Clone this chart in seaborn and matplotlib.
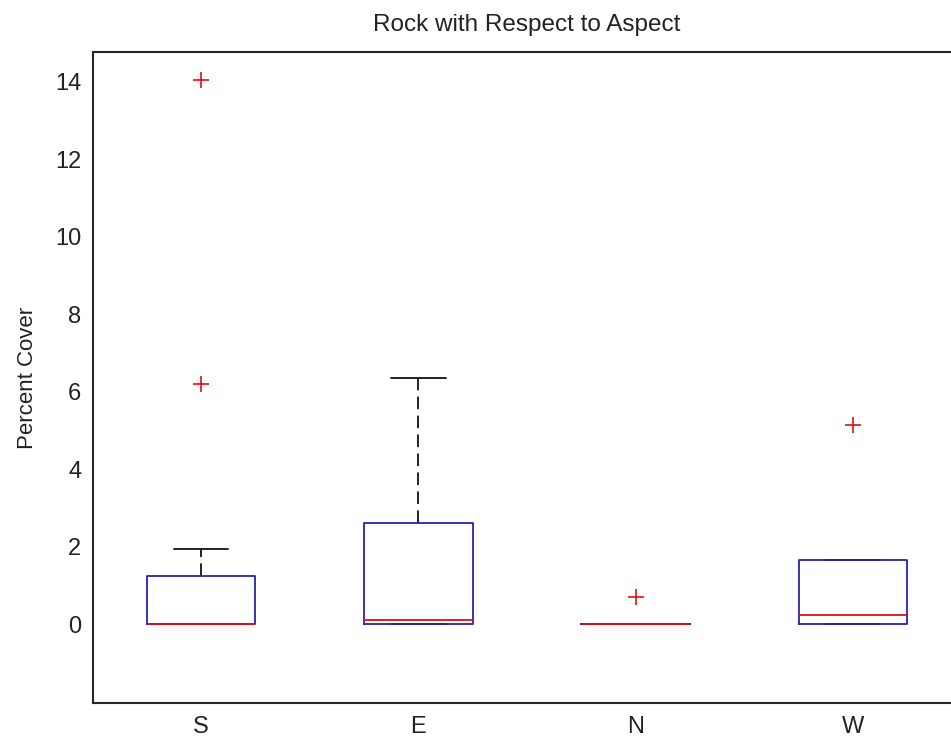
import matplotlib
matplotlib.use("Agg")
import matplotlib.pyplot as plt
import seaborn as sns
import pandas as pd

# Percent rock cover by slope aspect
aspects = ["S", "E", "N", "W"]
rock_s = [0, 0, 0, 0, 0, 0, 0, 0.4, 0.9, 1.24, 1.93, 6.2, 14.05]
rock_e = [0, 0, 0, 0.05, 0.1, 1.2, 2.6, 4.0, 6.35]
rock_n = [0, 0, 0, 0, 0, 0, 0, 0, 0.7]
rock_w = [0, 0, 0, 0.1, 0.25, 0.8, 1.65, 1.65, 5.15]

y_ticks = [0, 2, 4, 6, 8, 10, 12, 14]

df = pd.DataFrame({
    "Aspect": (["S"] * len(rock_s) + ["E"] * len(rock_e)
               + ["N"] * len(rock_n) + ["W"] * len(rock_w)),
    "Percent Cover": rock_s + rock_e + rock_n + rock_w,
})

sns.set_style("white")
plt.rcParams["font.family"] = ["Liberation Sans", "DejaVu Sans"]

fig = plt.figure(figsize=(9.51, 7.40), dpi=100)
ax = fig.add_axes([92.5 / 951, 1 - 703.3 / 740, 869.2 / 951, (703.3 - 51.7) / 740])

# boxes and medians sit above whiskers and caps
sns.boxplot(
    data=df, x="Aspect", y="Percent Cover", order=aspects,
    width=0.5, fill=False, whis=1.5, ax=ax,
    boxprops={"color": "#2424b0", "linewidth": 1.3, "zorder": 4},
    medianprops={"color": "#e01010", "linewidth": 1.3, "zorder": 5},
    whiskerprops={"color": "#111111", "linewidth": 1.3,
                  "linestyle": (0, (7, 3.5)), "zorder": 2},
    capprops={"color": "#111111", "linewidth": 1.3, "zorder": 2},
    flierprops={"marker": "+", "markeredgecolor": "#e01010",
                "markersize": 11, "markeredgewidth": 1.2, "zorder": 5},
)

ax.set_xlim(-0.5, 3.5)
ax.set_ylim(-2.04, 14.77)
ax.set_yticks(y_ticks)
ax.set_yticklabels([str(t) for t in y_ticks])

for side in ["left", "top", "bottom", "right"]:
    ax.spines[side].set_visible(True)
    ax.spines[side].set_color("#262626")
    ax.spines[side].set_linewidth(1.5)

ax.tick_params(axis="y", direction="in", length=7, width=1.2, color="#262626",
               labelsize=17, labelcolor="#222222", pad=8, right=True)
ax.tick_params(axis="x", length=0, labelsize=17, labelcolor="#222222", pad=9)

ax.set_xlabel("")
ax.set_ylabel("Percent Cover", fontsize=16, color="#222222", labelpad=12)
ax.set_title("Rock with Respect to Aspect", fontsize=17.5, color="#222222", pad=15)

fig.savefig("out.png", dpi=100)
